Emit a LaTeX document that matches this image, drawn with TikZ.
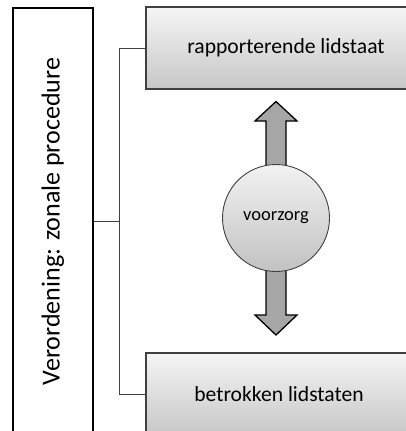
\documentclass[tikz,border=0pt]{standalone}
\usepackage{fontspec}
\setmainfont{Carlito}
\usepackage{tikz}

\begin{document}
\begin{tikzpicture}[
		x={(1pt,0pt)},
		y={(0pt,-1pt)},
		vak/.style={draw=black!75, line width=1.2pt, top color=black!4, bottom color=black!22, minimum height=82pt, inner sep=0pt, font=\fontsize{21.6}{25}\selectfont},
		pijl/.style={draw=black, line width=1.3pt, fill=black!35, line join=miter},
		tak/.style={draw=black!75, line width=0.8pt}
	]

		\useasboundingbox (0,0) rectangle (406,431);

		% Regulation frame
		\node[draw=black, line width=2pt, rotate=90, minimum width=428pt, minimum height=80pt, inner sep=0pt, font=\fontsize{26}{30}\selectfont] (verordening) at (52.8,221.5) {Verordening: zonale procedure};

		% Member states
		\node[vak, minimum width=280pt] (rapporterend) at (286,48) {rapporterende lidstaat};
		\node[vak, minimum width=266pt] (betrokken) at (279,394) {betrokken lidstaten};

		% Branches
		\coordinate (splitsing) at (119.5,221.5);
		\draw[tak] (verordening.south) -- (splitsing);
		\draw[tak] (rapporterend.west) -| (splitsing) |- (betrokken.west);

		% Arrows up and down
		\draw[pijl] (266,218) -- (266,121) -- (255,121) -- (276,101.5) -- (297,121) -- (286,121) -- (286,218) -- cycle;
		\draw[pijl] (266,218) -- (266,315) -- (255,315) -- (276,335) -- (297,315) -- (286,315) -- (286,218) -- cycle;

		% Precaution
		\node[circle, draw=black!75, line width=0.9pt, top color=black!5, bottom color=black!24, minimum size=107pt, inner sep=0pt, font=\fontsize{18.5}{21}\selectfont] (voorzorg) at (276,218) {voorzorg};
	\end{tikzpicture}
\end{document}
